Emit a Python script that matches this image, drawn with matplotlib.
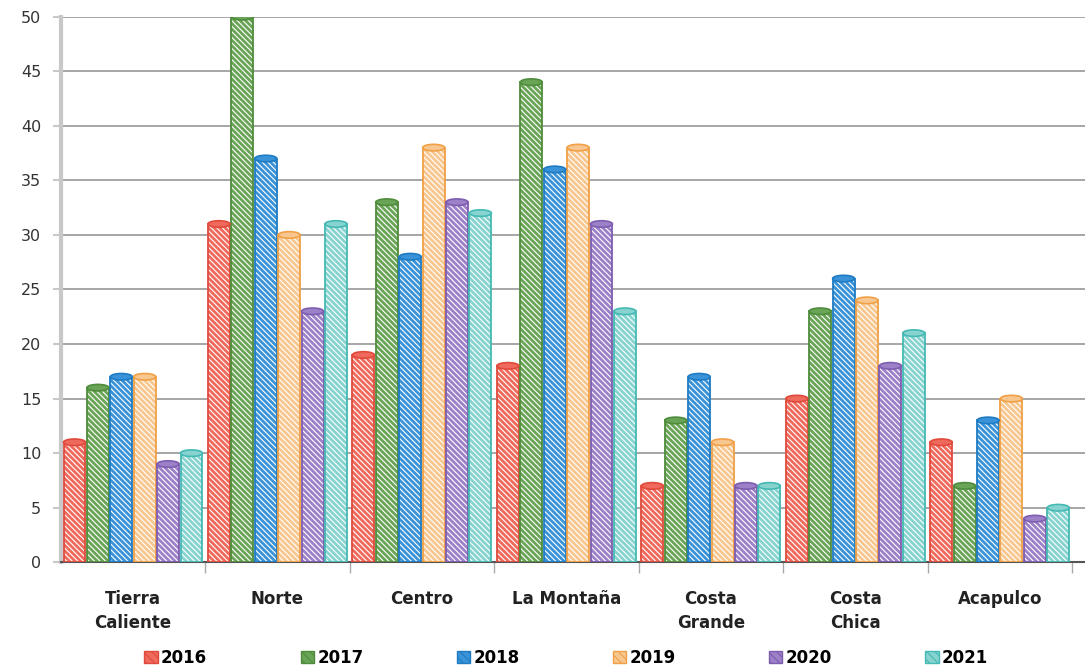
import numpy as np
import matplotlib.pyplot as plt
from matplotlib.patches import Ellipse, Patch

regions = ["Tierra\nCaliente", "Norte", "Centro", "La Montaña",
           "Costa\nGrande", "Costa\nChica", "Acapulco"]
years = ["2016", "2017", "2018", "2019", "2020", "2021"]

v2016 = [11, 31, 19, 18, 7, 15, 11]
v2017 = [16, 50, 33, 44, 13, 23, 7]
v2018 = [17, 37, 28, 36, 17, 26, 13]
v2019 = [17, 30, 38, 38, 11, 24, 15]
v2020 = [9, 23, 33, 31, 7, 18, 4]
v2021 = [10, 31, 32, 23, 7, 21, 5]
series = [v2016, v2017, v2018, v2019, v2020, v2021]

faces = ["#ef6a5c", "#6aa457", "#3a93d8", "#f8c790", "#9c80c8", "#86d3cf"]
edges = ["#e04a3c", "#4f8c3c", "#1f7cc4", "#f0a046", "#7e5db0", "#45b9b3"]

plt.rcParams["hatch.linewidth"] = 0.8
fig = plt.figure(figsize=(10.85, 6.67), dpi=100)
ax = fig.add_axes([0.056, 0.157, 0.944, 0.818])

x = np.arange(len(regions))
step = 0.162
w = 0.152
for i, vals in enumerate(series):
    xs = x + (i - 2.5) * step
    ax.bar(xs, vals, w, color=faces[i], edgecolor="white", hatch="\\\\\\\\\\\\",
           linewidth=0, zorder=3)
    ax.bar(xs, vals, w, fill=False, edgecolor=edges[i], linewidth=1.3, zorder=4)
    for xv, v in zip(xs, vals):
        ax.add_patch(Ellipse((xv, 0), w, 0.6, facecolor=faces[i],
                             edgecolor=edges[i], linewidth=1.2, zorder=2.5))
        ax.add_patch(Ellipse((xv, v), w, 0.6, facecolor=faces[i],
                             edgecolor=edges[i], linewidth=1.2, zorder=5))

ax.set_xlim(-0.5, 6.59)
ax.set_ylim(0, 50)
ax.set_yticks(range(0, 51, 5))
ax.grid(axis="y", color="#a6a6a6", linewidth=1.4, zorder=0)
ax.set_axisbelow(True)
for s in ["top", "right"]:
    ax.spines[s].set_visible(False)
ax.spines["left"].set_color("#c8c8c8")
ax.spines["left"].set_linewidth(3)
ax.spines["bottom"].set_color("#555555")
ax.spines["bottom"].set_linewidth(1.5)
ax.tick_params(axis="y", length=6, color="#c8c8c8", width=1.5,
               labelsize=11.5, labelcolor="#333333", pad=8)
ax.set_xticks(x + 0.5, minor=True)
ax.tick_params(axis="x", which="minor", length=8, color="#aaaaaa", width=1)
ax.set_xticks(x)
ax.set_xticklabels(regions, fontsize=12, fontweight="bold", color="#222222",
                   linespacing=1.45)
ax.tick_params(axis="x", which="major", length=0, pad=20)

handles = [Patch(facecolor=faces[i], edgecolor=edges[i], hatch="\\\\\\\\",
                 linewidth=1) for i in range(len(years))]
fig.legend(handles, years, loc="lower center", bbox_to_anchor=(0.522, -0.022),
           ncol=6, frameon=False, columnspacing=5.6, handlelength=0.8,
           handleheight=0.8, handletextpad=0.2,
           prop={"weight": "bold", "size": 12})

fig.savefig("out.png", dpi=100)
